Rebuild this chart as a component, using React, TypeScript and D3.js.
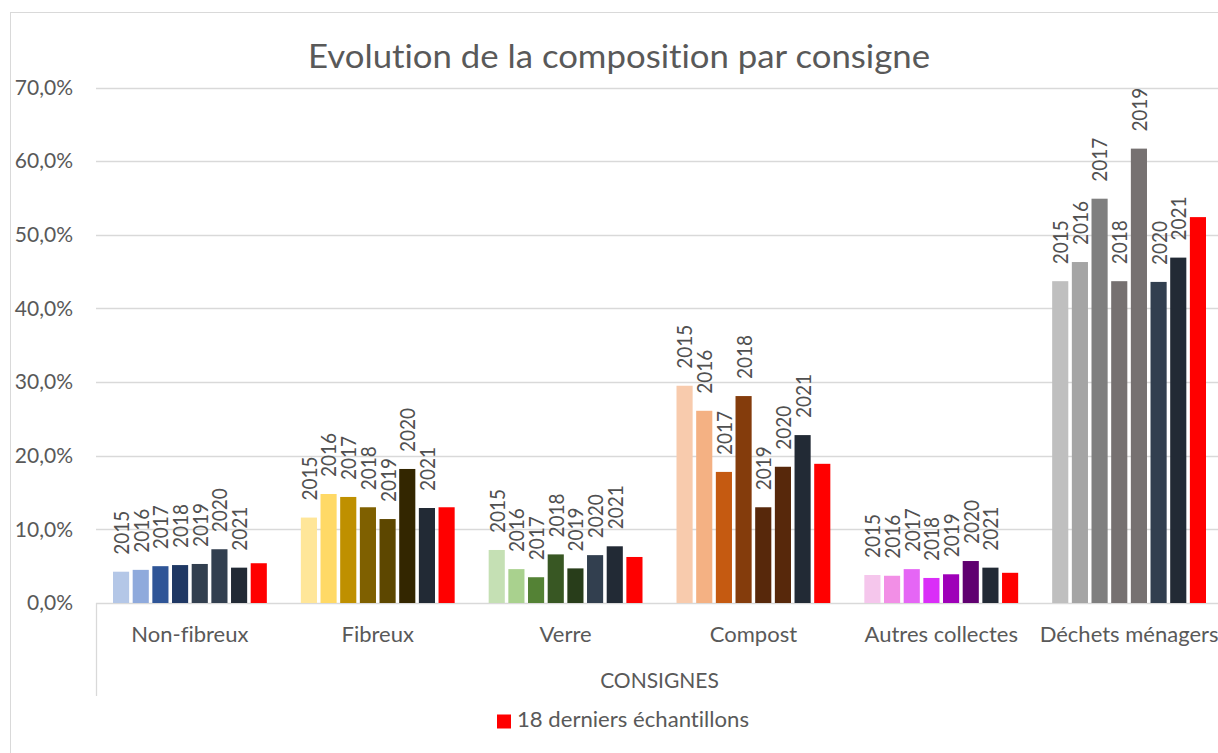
import { useEffect, useRef } from "react";
import * as d3 from "d3";

const categories = [
  "Non-fibreux",
  "Fibreux",
  "Verre",
  "Compost",
  "Autres collectes",
  "Déchets ménagers",
];

const seriesNames = ["2015", "2016", "2017", "2018", "2019", "2020", "2021", "18 derniers échantillons"];

// values in % per category, one array per series
const values2015 = [4.25, 11.6, 7.2, 29.5, 3.8, 43.7];
const values2016 = [4.5, 14.8, 4.6, 26.1, 3.7, 46.3];
const values2017 = [5.0, 14.4, 3.5, 17.8, 4.6, 54.9];
const values2018 = [5.15, 13.0, 6.6, 28.1, 3.4, 43.7];
const values2019 = [5.3, 11.4, 4.7, 13.0, 3.9, 61.7];
const values2020 = [7.3, 18.2, 6.5, 18.5, 5.7, 43.6];
const values2021 = [4.8, 12.9, 7.7, 22.8, 4.8, 46.9];
const valuesLast18 = [5.4, 13.0, 6.25, 18.9, 4.1, 52.4];

const yTicks = [0, 10, 20, 30, 40, 50, 60, 70];

// per-category palettes (one colour per series)
const palettes = [
  ["#b4c7e7", "#8faadc", "#2f5597", "#1f3864", "#323f4f", "#323f4f", "#222a35", "#ff0000"],
  ["#ffe699", "#ffd966", "#bf9000", "#7f6000", "#5d4700", "#332600", "#222a35", "#ff0000"],
  ["#c5e0b4", "#a9d18e", "#548235", "#385723", "#283d1a", "#323f4f", "#222a35", "#ff0000"],
  ["#f8cbad", "#f4b183", "#c55a11", "#843c0c", "#57280b", "#57280b", "#222a35", "#ff0000"],
  ["#f5c6ec", "#f28fe6", "#e566f5", "#da2ef8", "#9e00b8", "#600070", "#222a35", "#ff0000"],
  ["#bfbfbf", "#a5a5a5", "#7f7f7f", "#767171", "#767171", "#323f4f", "#222a35", "#ff0000"],
];

const WIDTH = 1218;
const HEIGHT = 753;
const TEXT = "#595959";
const GRID = "#d9d9d9";
const FONT = "Lato, 'Open Sans', sans-serif";

export default function App() {
  const ref = useRef<SVGSVGElement | null>(null);

  useEffect(() => {
    if (!ref.current) return;
    const svg = d3.select(ref.current);
    svg.selectAll("*").remove();

    const series = [values2015, values2016, values2017, values2018, values2019, values2020, values2021, valuesLast18];

    const x = d3.scaleBand<string>().domain(categories).range([96, 1223]);
    const xi = d3
      .scaleBand<string>()
      .domain(seriesNames)
      .range([17, x.bandwidth() - 17])
      .paddingInner(0.18);
    const y = d3.scaleLinear().domain([0, 70]).range([603, 87.5]);

    // outer frame
    svg
      .append("rect")
      .attr("x", 10.5)
      .attr("y", 12.5)
      .attr("width", WIDTH + 20)
      .attr("height", HEIGHT + 20)
      .attr("fill", "none")
      .attr("stroke", GRID);

    // title
    svg
      .append("text")
      .attr("x", 619)
      .attr("y", 68)
      .attr("text-anchor", "middle")
      .attr("font-size", 32)
      .attr("textLength", 622)
      .attr("lengthAdjust", "spacingAndGlyphs")
      .attr("fill", TEXT)
      .text("Evolution de la composition par consigne");

    // gridlines + y labels
    const g = svg.append("g");
    g.selectAll("line.grid")
      .data(yTicks)
      .join("line")
      .attr("class", "grid")
      .attr("x1", 96)
      .attr("x2", WIDTH)
      .attr("y1", (d) => Math.round(y(d)) + 0.5)
      .attr("y2", (d) => Math.round(y(d)) + 0.5)
      .attr("stroke", GRID)
      .attr("stroke-width", 1.3);

    g.selectAll("text.ytick")
      .data(yTicks)
      .join("text")
      .attr("class", "ytick")
      .attr("x", 73)
      .attr("y", (d) => y(d))
      .attr("dy", "0.35em")
      .attr("text-anchor", "end")
      .attr("font-size", 21)
      .attr("fill", TEXT)
      .text((d) => d3.format(".1f")(d).replace(".", ",") + "%");

    // category axis box line
    svg
      .append("line")
      .attr("x1", 96.5)
      .attr("x2", 96.5)
      .attr("y1", 603)
      .attr("y2", 696)
      .attr("stroke", GRID)
      .attr("stroke-width", 1.3);

    // bars + year labels
    categories.forEach((cat, ci) => {
      const grp = svg.append("g").attr("transform", `translate(${x(cat)},0)`);
      const rows = series.map((vals, si) => ({ name: seriesNames[si], v: vals[ci], color: palettes[ci][si], si }));

      grp
        .selectAll("rect")
        .data(rows)
        .join("rect")
        .attr("x", (d) => xi(d.name) || 0)
        .attr("y", (d) => y(d.v))
        .attr("width", xi.bandwidth())
        .attr("height", (d) => y(0) - y(d.v))
        .attr("fill", (d) => d.color);

      grp
        .selectAll("text")
        .data(rows.filter((d) => d.si < 7))
        .join("text")
        .attr(
          "transform",
          (d) => `translate(${(xi(d.name) || 0) + xi.bandwidth() / 2},${y(d.v) - 17}) rotate(-90)`
        )
        .attr("dy", "0.36em")
        .attr("font-size", 22)
        .attr("textLength", 44)
        .attr("lengthAdjust", "spacingAndGlyphs")
        .attr("fill", "#505050")
        .text((d) => d.name);
    });

    // category labels
    svg
      .selectAll("text.cat")
      .data(categories)
      .join("text")
      .attr("class", "cat")
      .attr("x", (d) => (x(d) || 0) + x.bandwidth() / 2)
      .attr("y", 642)
      .attr("text-anchor", "middle")
      .attr("font-size", 22)
      .attr("fill", TEXT)
      .text((d) => d);

    // axis title
    svg
      .append("text")
      .attr("x", 659.5)
      .attr("y", 688)
      .attr("text-anchor", "middle")
      .attr("font-size", 21)
      .attr("fill", TEXT)
      .text("CONSIGNES");

    // legend
    svg
      .append("rect")
      .attr("x", 497)
      .attr("y", 714.5)
      .attr("width", 14)
      .attr("height", 14)
      .attr("fill", "#ff0000");
    svg
      .append("text")
      .attr("x", 517)
      .attr("y", 727)
      .attr("font-size", 21)
      .attr("textLength", 232)
      .attr("lengthAdjust", "spacingAndGlyphs")
      .attr("fill", TEXT)
      .text(seriesNames[7]);
  }, []);

  return (
    <svg
      ref={ref}
      width={WIDTH}
      height={HEIGHT}
      style={{
        position: "absolute",
        left: 0,
        top: 0,
        background: "#fff",
        fontFamily: FONT,
        fontVariantLigatures: "none",
      }}
    />
  );
}
